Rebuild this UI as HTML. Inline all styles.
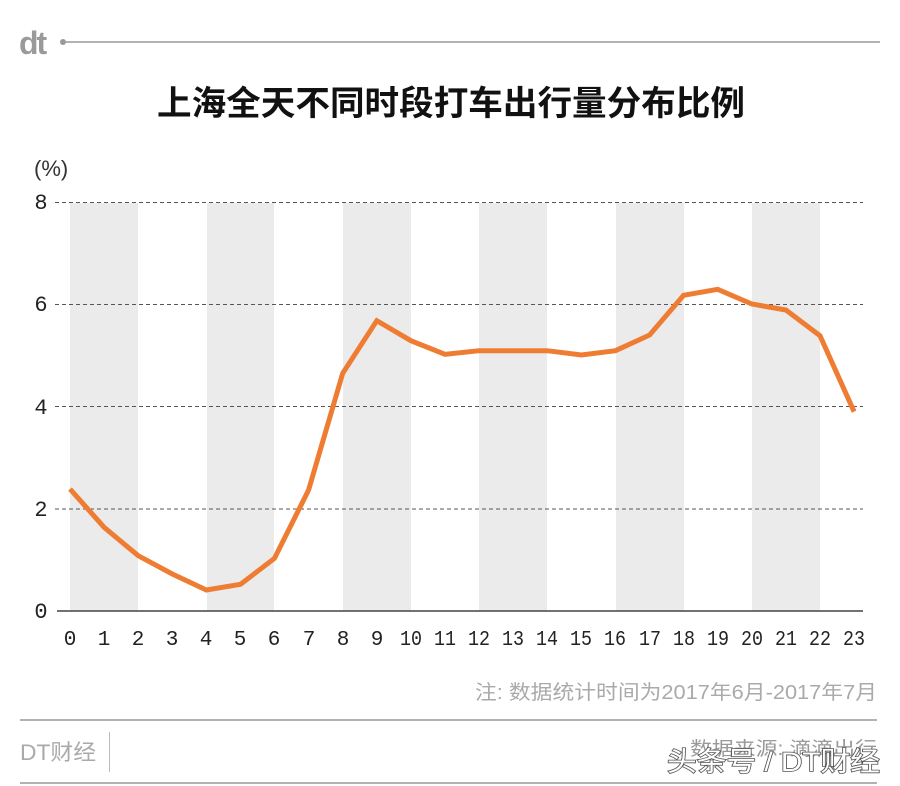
<!DOCTYPE html>
<html><head><meta charset="utf-8"><style>
html,body{margin:0;padding:0;background:#fff;}
svg{display:block;}
</style></head><body>
<svg width="900" height="786" viewBox="0 0 900 786" xmlns="http://www.w3.org/2000/svg">
<rect width="900" height="786" fill="#fff"/>
<!-- header -->
<text x="19" y="54" font-family="Liberation Sans, sans-serif" font-weight="bold" font-size="32" fill="#9a9a9a" letter-spacing="-2">dt</text>
<circle cx="63" cy="42" r="3" fill="#9a9a9a"/>
<line x1="66" y1="42" x2="880" y2="42" stroke="#999" stroke-width="1.5"/>
<text x="157" y="115" font-family="Liberation Sans, 'Noto Sans CJK SC', sans-serif" font-weight="bold" font-size="34" fill="#111" textLength="588" lengthAdjust="spacingAndGlyphs">上海全天不同时段打车出行量分布比例</text>
<text x="34" y="176" font-family="Liberation Sans, sans-serif" font-size="22" fill="#333">(%)</text>
<!-- bands -->
<g fill="#ebebeb">
<rect x="70" y="203" width="68" height="408"/>
<rect x="207" y="203" width="67" height="408"/>
<rect x="343" y="203" width="68" height="408"/>
<rect x="479" y="203" width="68" height="408"/>
<rect x="616" y="203" width="68" height="408"/>
<rect x="752" y="203" width="68" height="408"/>
</g>
<!-- grid -->
<g stroke="#555" stroke-width="1" stroke-dasharray="4,3">
<line x1="55" y1="202.5" x2="863" y2="202.5"/>
<line x1="55" y1="304.5" x2="863" y2="304.5"/>
<line x1="55" y1="406.5" x2="863" y2="406.5"/>
<line x1="55" y1="509" x2="863" y2="509"/>
</g>
<line x1="57" y1="611" x2="863" y2="611" stroke="#444" stroke-width="1.5"/>
<!-- y labels -->
<g font-family="Liberation Mono, monospace" font-size="22" fill="#222" text-anchor="middle">
<text x="41" y="209">8</text>
<text x="41" y="311">6</text>
<text x="41" y="414">4</text>
<text x="41" y="516">2</text>
<text x="41" y="618">0</text>
</g>
<!-- x labels -->
<g font-family="Liberation Mono, monospace" font-size="21" fill="#222" text-anchor="middle">
<text x="70" y="645">0</text><text x="104" y="645">1</text><text x="138" y="645">2</text><text x="172" y="645">3</text>
<text x="206" y="645">4</text><text x="240" y="645">5</text><text x="274" y="645">6</text><text x="309" y="645">7</text>
<text x="343" y="645">8</text><text x="377" y="645">9</text>
<text x="411" y="645" textLength="22" lengthAdjust="spacingAndGlyphs">10</text><text x="445" y="645" textLength="22" lengthAdjust="spacingAndGlyphs">11</text>
<text x="479" y="645" textLength="22" lengthAdjust="spacingAndGlyphs">12</text><text x="513" y="645" textLength="22" lengthAdjust="spacingAndGlyphs">13</text>
<text x="547" y="645" textLength="22" lengthAdjust="spacingAndGlyphs">14</text><text x="581" y="645" textLength="22" lengthAdjust="spacingAndGlyphs">15</text>
<text x="615" y="645" textLength="22" lengthAdjust="spacingAndGlyphs">16</text><text x="650" y="645" textLength="22" lengthAdjust="spacingAndGlyphs">17</text>
<text x="684" y="645" textLength="22" lengthAdjust="spacingAndGlyphs">18</text><text x="718" y="645" textLength="22" lengthAdjust="spacingAndGlyphs">19</text>
<text x="752" y="645" textLength="22" lengthAdjust="spacingAndGlyphs">20</text><text x="786" y="645" textLength="22" lengthAdjust="spacingAndGlyphs">21</text>
<text x="820" y="645" textLength="22" lengthAdjust="spacingAndGlyphs">22</text><text x="854" y="645" textLength="22" lengthAdjust="spacingAndGlyphs">23</text>
</g>
<!-- series -->
<polyline fill="none" stroke="#ee7d33" stroke-width="5" stroke-linejoin="miter" points="70,489 104.1,527.3 138.2,555.7 172.3,574 206.4,590 240.5,584.3 274.5,558.3 308.6,490 342.7,373.3 376.8,320.7 410.9,340.7 445,354.3 479.1,350.7 513.2,350.7 547.3,350.7 581.4,355 615.5,350.7 649.6,335 683.6,295.3 717.7,289.3 751.8,304 785.9,310 820,335.7 854.1,411.7"/>
<!-- note -->
<text x="475" y="699" font-family="Liberation Sans, 'Noto Sans CJK SC', sans-serif" font-size="20" fill="#aaa" textLength="402" lengthAdjust="spacingAndGlyphs">注: 数据统计时间为2017年6月-2017年7月</text>
<line x1="20" y1="720" x2="877" y2="720" stroke="#999" stroke-width="1.5"/>
<line x1="20" y1="783" x2="877" y2="783" stroke="#999" stroke-width="1.5"/>
<text x="20" y="760" font-family="Liberation Sans, 'Noto Sans CJK SC', sans-serif" font-size="22" fill="#aaa" textLength="76" lengthAdjust="spacingAndGlyphs">DT财经</text>
<line x1="109.5" y1="732" x2="109.5" y2="772" stroke="#bbb" stroke-width="1"/>
<text x="690" y="755" font-family="Liberation Sans, 'Noto Sans CJK SC', sans-serif" font-size="19" fill="#999" textLength="187" lengthAdjust="spacingAndGlyphs">数据来源: 滴滴出行</text>
<text x="667" y="771" font-family="Liberation Sans, 'Noto Sans CJK SC', sans-serif" font-size="27" fill="#fff" stroke="#555" stroke-width="1.6" paint-order="stroke" textLength="213" lengthAdjust="spacingAndGlyphs">头条号 / DT财经</text>
</svg>
</body></html>
